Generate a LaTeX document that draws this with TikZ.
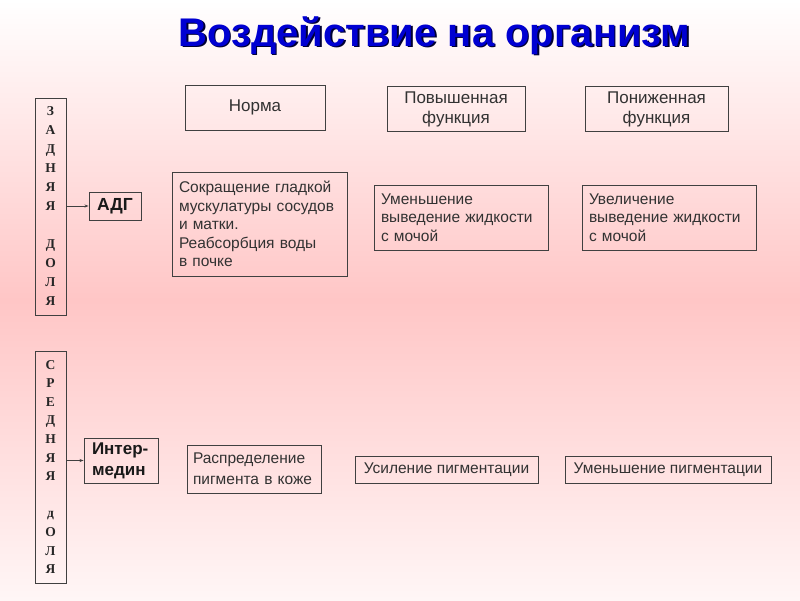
\documentclass[tikz,border=0pt]{standalone}
\usepackage{fontspec}
\setmainfont{Liberation Sans}
\newfontfamily\serifb{Liberation Serif}
\usetikzlibrary{arrows.meta}
\definecolor{pinkmid}{RGB}{255,198,198}
\definecolor{pinkbot}{RGB}{255,246,246}
\definecolor{titleblue}{RGB}{0,0,210}
\definecolor{boxline}{RGB}{64,64,64}
\definecolor{txt}{RGB}{50,50,50}
\tikzset{
  box/.style={draw=boxline, line width=0.9pt, inner sep=0pt, text=txt},
  vbox/.style={box, minimum width=31pt, align=center, font=\serifb\bfseries\fontsize{13.5}{19}\selectfont, text=black!85},
  smallbox/.style={box, font=\fontsize{15.5}{18.5}\selectfont},
  headbox/.style={box, font=\fontsize{17}{20}\selectfont, align=center},
  boldbox/.style={box, font=\bfseries\fontsize{17.5}{21}\selectfont, text=black!90},
  arr/.style={draw=boxline, line width=0.7pt, -{Stealth[length=4pt,width=3pt]}},
}
\begin{document}
\begin{tikzpicture}[x=1pt,y=-1pt]
\useasboundingbox (0,0) rectangle (800,600);
\shade[top color=white, bottom color=pinkmid] (0,0) rectangle (800,300);
\shade[top color=pinkmid, bottom color=pinkbot] (0,300) rectangle (800,600);
% title
\node[font=\bfseries\fontsize{40}{42}\selectfont, text=black!80!blue] (titleshadow) at (436,37) {Воздействие на организм};
\node[font=\bfseries\fontsize{40}{42}\selectfont, text=titleblue] (title) at (434.5,35.5) {Воздействие на организм};
% header boxes
\node[headbox, minimum width=140pt, minimum height=45pt] (norma) at (255,107.5) {\raisebox{-3pt}{Норма}};
\node[headbox, minimum width=138pt, minimum height=45pt] (pov) at (456,109) {Повышенная\\функция};
\node[headbox, minimum width=143pt, minimum height=45pt] (pon) at (656.5,109) {Пониженная\\функция};
% left vertical boxes
\node[vbox, minimum height=217pt] (zad) at (50.5,206.5) {З\\А\\Д\\Н\\Я\\Я\\\mbox{}\\Д\\О\\Л\\Я};
\node[vbox, minimum height=232pt, font=\serifb\bfseries\fontsize{13.5}{18.6}\selectfont] (sred) at (50.5,467) {С\\Р\\Е\\Д\\Н\\Я\\Я\\\mbox{}\\д\\О\\Л\\Я};
% hormone boxes
\node[boldbox, minimum width=52pt, minimum height=28pt] (adg) at (115,206) {АДГ};
\node[boldbox, minimum width=74pt, minimum height=45pt, align=left, text width=58pt, font=\bfseries\fontsize{17}{21}\selectfont] (inter) at (121,460.5) {Интер-\\медин};
\draw[arr] (zad.east |- adg.west) -- (adg.west);
\draw[arr] (sred.east |- inter.west) -- (inter.west);
% row 1 effects
\node[smallbox, minimum width=175pt, minimum height=104pt, text width=161pt, align=left] (sokr) at (259.5,224) {Сокращение гладкой\\мускулатуры сосудов\\и матки.\\Реабсорбция воды\\в почке};
\node[smallbox, minimum width=174pt, minimum height=65pt, text width=160pt, align=left] (umen) at (461,217.5) {Уменьшение\\выведение жидкости\\с мочой};
\node[smallbox, minimum width=174pt, minimum height=65pt, text width=160pt, align=left] (uvel) at (669,217.5) {Увеличение\\выведение жидкости\\с мочой};
% row 2 effects
\node[smallbox, minimum width=134pt, minimum height=48pt, text width=122pt, align=left, font=\fontsize{15.5}{21}\selectfont] (rasp) at (254,469) {Распределение\\пигмента в коже};
\node[smallbox, minimum width=183pt, minimum height=27pt] (usil) at (446.5,470) {Усиление пигментации};
\node[smallbox, minimum width=206pt, minimum height=27pt] (umpig) at (668,470) {Уменьшение пигментации};
\end{tikzpicture}
\end{document}
